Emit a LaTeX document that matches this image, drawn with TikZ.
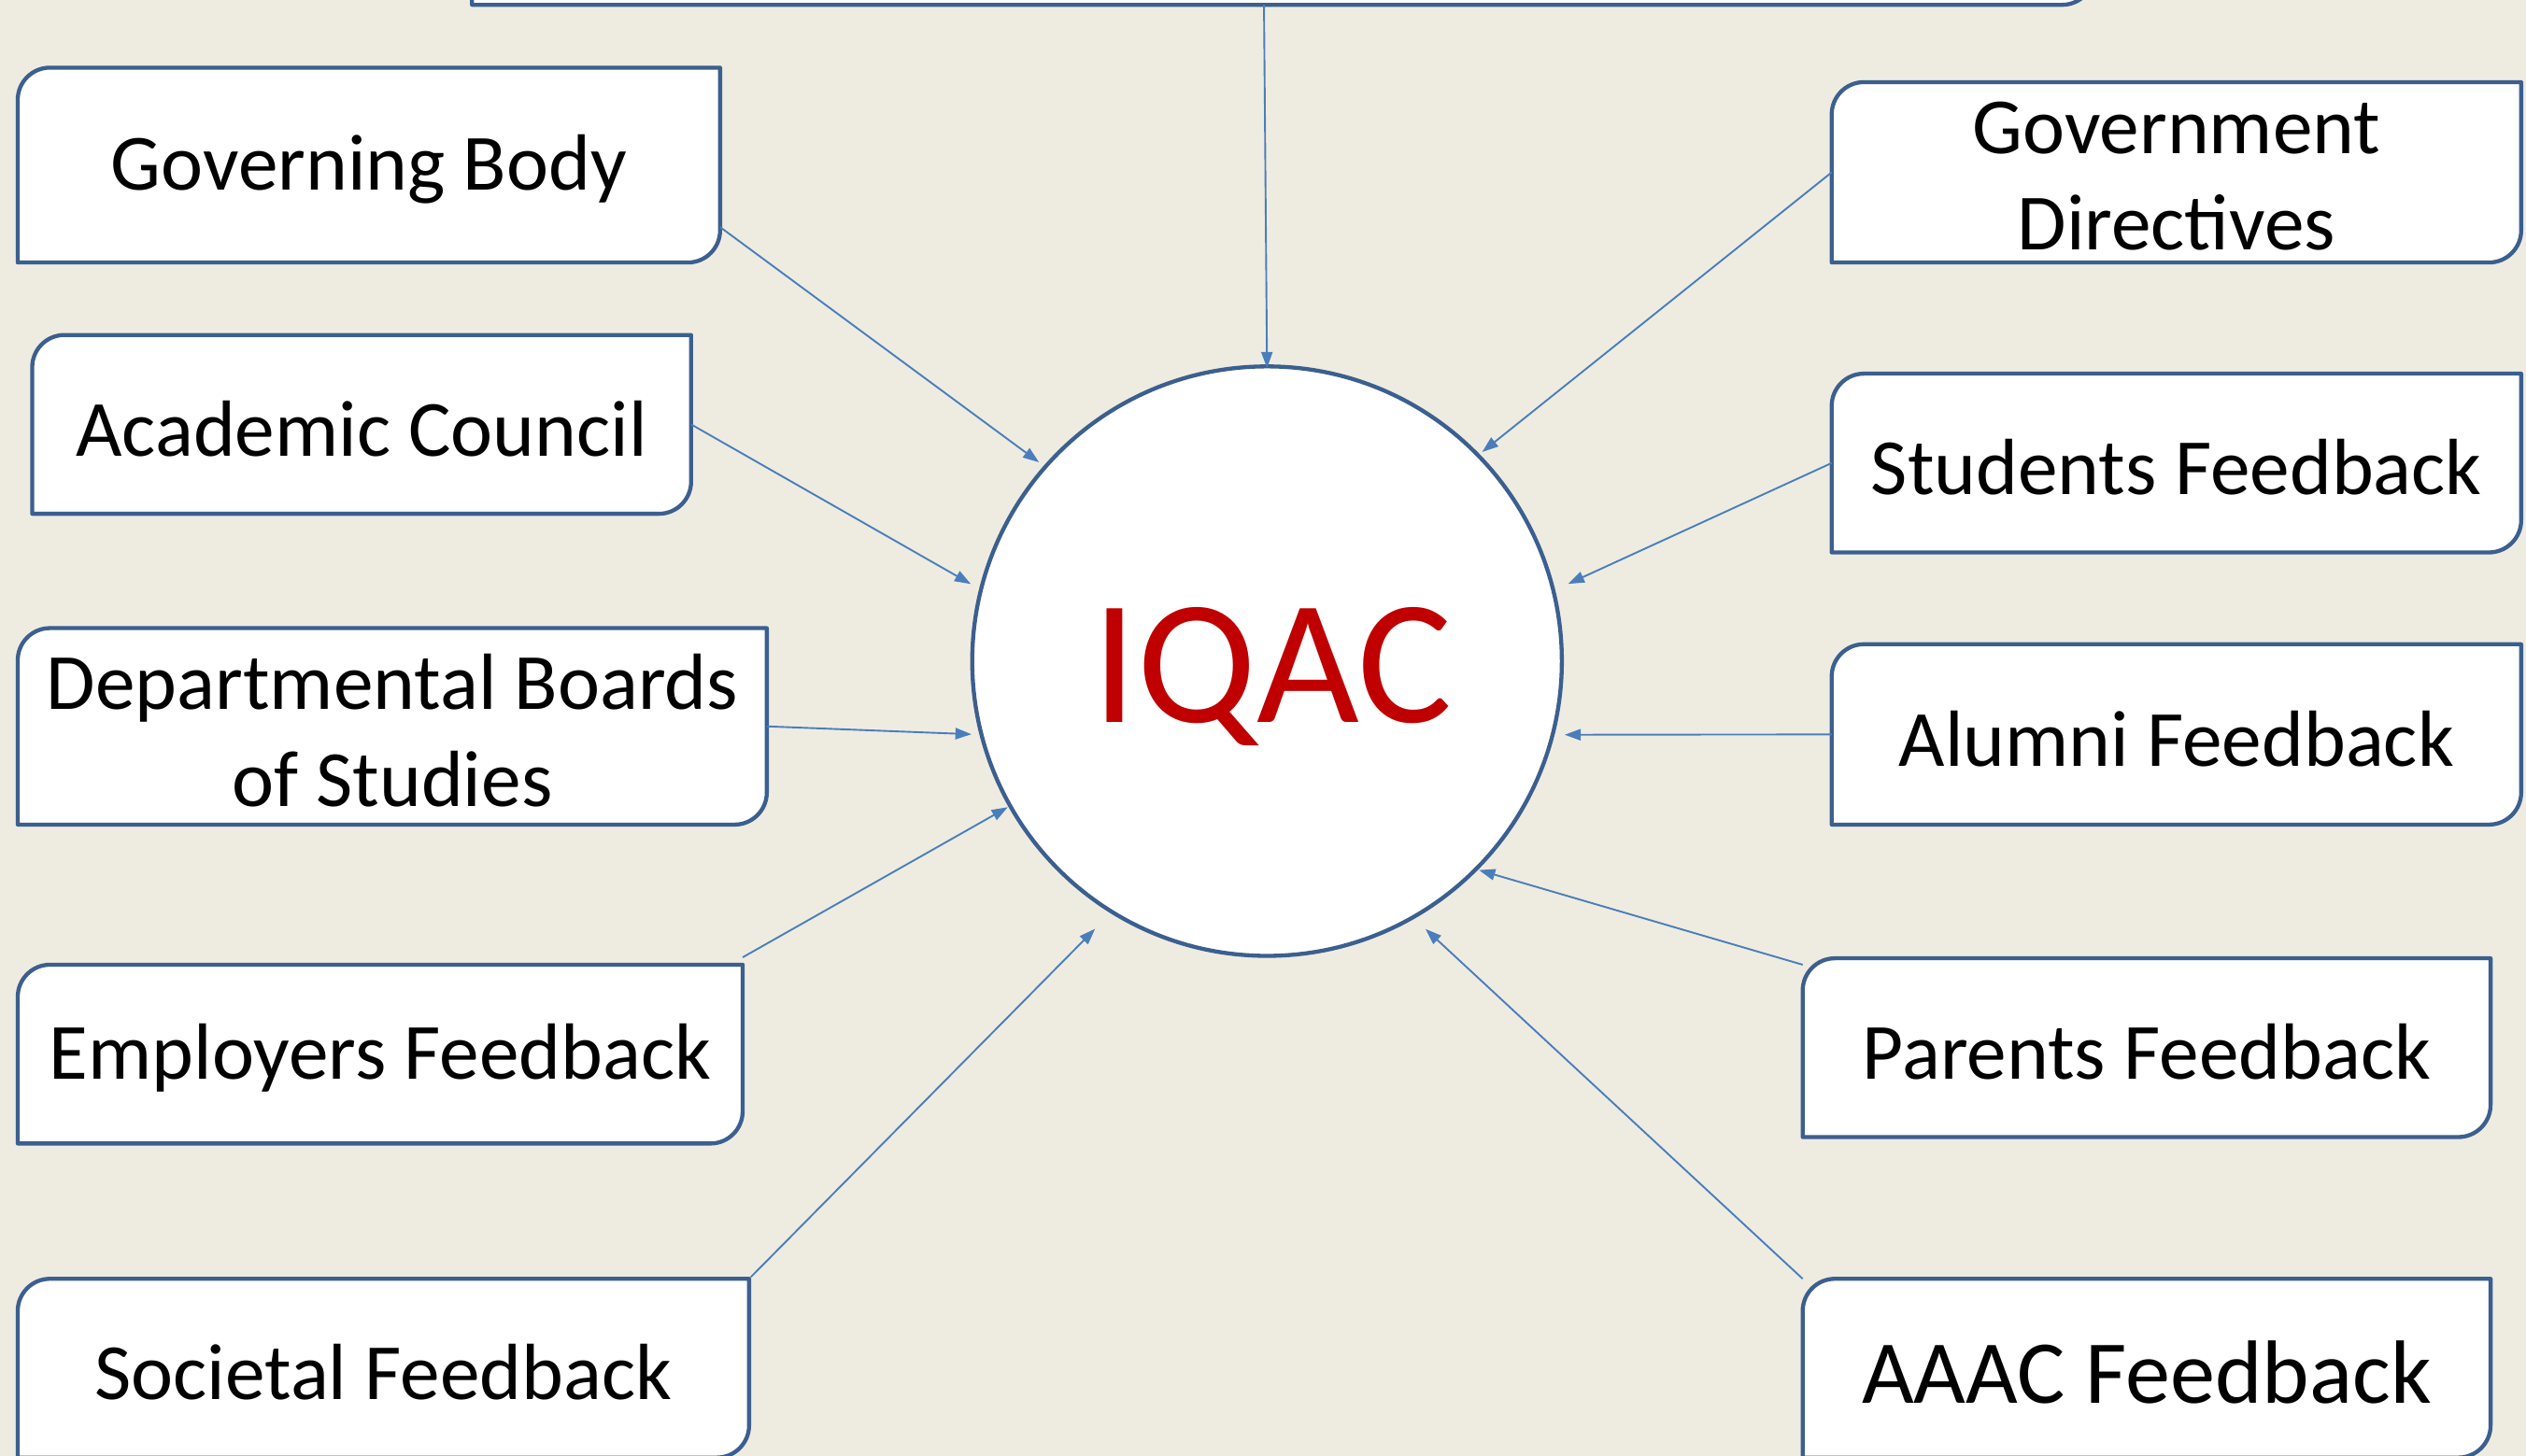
\documentclass[tikz,border=0pt]{standalone}
\usepackage{fontspec}
\setmainfont{Carlito}
\usetikzlibrary{arrows.meta,calc,backgrounds}
\definecolor{bgc}{HTML}{EEECE1}
\definecolor{boxc}{HTML}{3B5F8F}
\definecolor{linec}{HTML}{4A7EBB}
\definecolor{iqacred}{HTML}{C00000}
\tikzset{
  boxnode/.style={inner sep=0pt, outer sep=0pt},
  boxtext/.style={inner sep=0pt, align=center, yshift=-2.5pt, font=\fontsize{49.5}{60}\selectfont},
  bigtext/.style={boxtext, font=\fontsize{55.8}{67}\selectfont},
  diagframe/.style={draw=boxc, line width=2.5pt, fill=white, line join=round},
  conn/.style={draw=linec, line width=1.1pt, -{Triangle[length=10pt,width=7pt]}},
}
\newcommand\dframe[2][20pt]{%
  \path[diagframe] ([yshift=-#1]#2.north west) -- (#2.south west) --
    ([xshift=-#1]#2.south east) arc[start angle=270,end angle=360,radius=#1] --
    (#2.north east) -- ([xshift=#1]#2.north west)
    arc[start angle=90,end angle=180,radius=#1] -- cycle;}
\begin{document}
\begin{tikzpicture}[x=1pt,y=-1pt]
\useasboundingbox (0,0) rectangle (1568,904);
% boxes
\node[boxnode, minimum width=1007pt, minimum height=83pt] (top) at (796.5,-38.5) {};
\node[boxnode, minimum width=436pt, minimum height=121pt, label={[boxtext]center:Governing Body}] (gb) at (229,102.5) {};
\node[boxnode, minimum width=409pt, minimum height=111pt, label={[boxtext]center:Academic Council}] (ac) at (224.5,263.5) {};
\node[boxnode, minimum width=465pt, minimum height=122pt, label={[boxtext]center:{Departmental Boards\\of Studies}}] (db) at (243.5,451) {};
\node[boxnode, minimum width=450pt, minimum height=111pt, label={[boxtext]center:Employers Feedback}] (em) at (236,654.5) {};
\node[boxnode, minimum width=454pt, minimum height=111pt, label={[boxtext]center:Societal Feedback}] (so) at (238,849.5) {};
\node[boxnode, minimum width=428pt, minimum height=112pt, label={[boxtext]center:{Government\\Directives}}] (gd) at (1351,107) {};
\node[boxnode, minimum width=428pt, minimum height=111pt, label={[boxtext]center:Students Feedback}] (sf) at (1351,287.5) {};
\node[boxnode, minimum width=428pt, minimum height=112pt, label={[boxtext]center:Alumni Feedback}] (al) at (1351,456) {};
\node[boxnode, minimum width=427pt, minimum height=111pt, label={[boxtext]center:Parents Feedback}] (pf) at (1332.5,650.5) {};
\node[boxnode, minimum width=427pt, minimum height=111pt, label={[bigtext]center:AAAC Feedback}] (aa) at (1332.5,849.5) {};
\begin{scope}[on background layer]
  \fill[bgc] (0,0) rectangle (1568,904);
  \dframe{top}\dframe{gb}\dframe{ac}\dframe{db}\dframe{em}\dframe{so}
  \dframe{gd}\dframe{sf}\dframe{al}\dframe{pf}\dframe{aa}
\end{scope}
% central circle
\node[circle, draw=boxc, line width=2.5pt, fill=white, minimum size=366pt, inner sep=0pt, outer sep=0pt] (iqac) at (786.5,410.5) {};
\node[anchor=base, inner sep=0pt, text=iqacred, font=\fontsize{110}{132}\selectfont] (iqact) at (790,448.5) {IQAC};
% connectors
\draw[conn] ($(top.south west)+(491.6,0)$) -- ($(iqac.center)+(90:182pt)$);
\draw[conn] ($(gb.south east)+(0,-22)$) -- ($(iqac.center)+(138.9:187.8pt)$);
\draw[conn] (ac.east) -- ($(iqac.center)+(165.4:190pt)$);
\draw[conn] (db.east) -- ($(iqac.center)+(193.9:189pt)$);
\draw[conn] ($(em.north east)+(0,-4.6)$) -- ($(iqac.center)+(209.4:184.7pt)$);
\draw[conn] ($(so.north east)+(1,-1)$) -- ($(iqac.center)+(237.3:197.5pt)$);
\draw[conn] (gd.west) -- ($(iqac.center)+(44.2:186.3pt)$);
\draw[conn] (sf.west) -- ($(iqac.center)+(14.4:193pt)$);
\draw[conn] (al.west) -- ($(iqac.center)+(-13.9:190.3pt)$);
\draw[conn] ($(pf.north west)+(0,4)$) -- ($(iqac.center)+(-44.6:184.8pt)$);
\draw[conn] (aa.north west) -- ($(iqac.center)+(-59.4:193.2pt)$);
\end{tikzpicture}
\end{document}
